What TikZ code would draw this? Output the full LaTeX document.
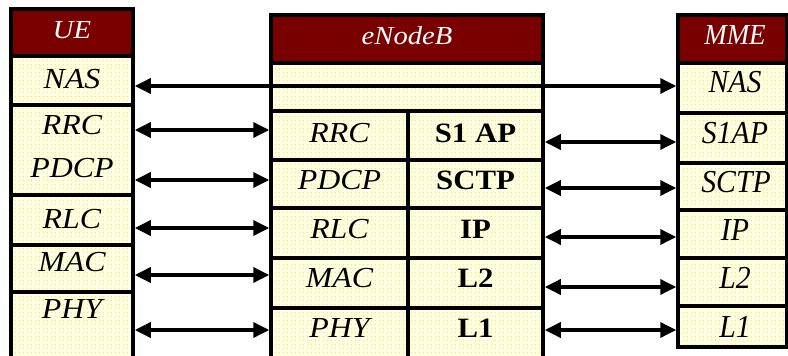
\documentclass[tikz,border=0pt]{standalone}
\usepackage{fontspec}
\setmainfont{Liberation Serif}[FakeStretch=1.1]
\newfontfamily\mmefont{Liberation Serif}[FakeStretch=0.93]
\usetikzlibrary{arrows.meta,patterns.meta,fit}
\definecolor{hdr}{RGB}{122,0,0}
\definecolor{cellbg}{RGB}{255,255,236}
\definecolor{dotc}{RGB}{255,244,0}
\begin{document}
\begin{tikzpicture}[x=1pt,y=-1pt,
  box/.style={draw=black, line width=3.5pt, inner sep=0pt},
  cell/.style={box, pattern={Dots[distance=4pt,radius=0.8pt]}, pattern color=dotc,
               preaction={fill=cellbg}},
  hdrbox/.style={box, fill=hdr},
  lbl/.style={font=\fontsize{29}{29}\selectfont\itshape, anchor=base, inner sep=0pt},
  blbl/.style={font=\fontsize{28}{28}\selectfont\bfseries, anchor=base, inner sep=0pt},
  mlbl/.style={font=\mmefont\fontsize{32}{32}\selectfont\itshape, anchor=base, inner sep=0pt},
  htxt/.style={text=white, font=\fontsize{26}{26}\selectfont\itshape, anchor=base, inner sep=0pt},
  mhtxt/.style={text=white, font=\mmefont\fontsize{29}{29}\selectfont\itshape, anchor=base, inner sep=0pt},
  link/.style={line width=3.5pt, {Triangle[length=16pt,width=15pt]}-{Triangle[length=16pt,width=15pt]}}]
\clip (0,0) rectangle (788,356);
\fill[white] (0,0) rectangle (788,356);

% ---------- UE protocol stack ----------
\node[hdrbox, fit={(11,9) (133,56)}] (ueh) {};
\node[cell, fit={(11,56) (133,105)}] (uenas) {};
\node[cell, fit={(11,105) (133,195)}] (uerrc) {};
\node[cell, fit={(11,195) (133,245)}] (uerlc) {};
\node[cell, fit={(11,245) (133,292)}] (uemac) {};
\node[cell, fit={(11,292) (133,372)}] (uephy) {};
\node[htxt] (tueh) at (72,38) {UE};
\node[lbl] (tuenas) at (72,88) {NAS};
\node[lbl] (tuerrc) at (72,134) {RRC};
\node[lbl] (tuepdcp) at (72,177) {PDCP};
\node[lbl] (tuerlc) at (72,228) {RLC};
\node[lbl] (tuemac) at (72,271) {MAC};
\node[lbl] (tuephy) at (72,318) {PHY};

% ---------- eNodeB protocol stack ----------
\node[hdrbox, fit={(271,15) (543,63)}] (enbh) {};
\node[cell, fit={(271,63) (543,111)}] (enbtop) {};
\node[cell, fit={(271,111) (408,160)}] (enbrrc) {};
\node[cell, fit={(271,160) (408,208)}] (enbpdcp) {};
\node[cell, fit={(271,208) (408,258)}] (enbrlc) {};
\node[cell, fit={(271,258) (408,308)}] (enbmac) {};
\node[cell, fit={(271,308) (408,372)}] (enbphy) {};
\node[cell, fit={(408,111) (543,160)}] (enbs1ap) {};
\node[cell, fit={(408,160) (543,208)}] (enbsctp) {};
\node[cell, fit={(408,208) (543,258)}] (enbip) {};
\node[cell, fit={(408,258) (543,308)}] (enbl2) {};
\node[cell, fit={(408,308) (543,372)}] (enbl1) {};
\node[htxt] (tenbh) at (407,45) {eNodeB};
\node[lbl] (tenbrrc) at (339.5,142) {RRC};
\node[lbl] (tenbpdcp) at (339.5,189) {PDCP};
\node[lbl] (tenbrlc) at (339.5,238) {RLC};
\node[lbl] (tenbmac) at (339.5,287) {MAC};
\node[lbl] (tenbphy) at (339.5,337) {PHY};
\node[blbl] (tenbs1ap) at (475.5,142) {S1 AP};
\node[blbl] (tenbsctp) at (475.5,189) {SCTP};
\node[blbl] (tenbip) at (475.5,238) {IP};
\node[blbl] (tenbl2) at (475.5,287) {L2};
\node[blbl] (tenbl1) at (475.5,337) {L1};

% ---------- MME protocol stack ----------
\node[hdrbox, fit={(678,15) (786.5,63)}] (mmeh) {};
\node[cell, fit={(678,63) (786.5,113)}] (mmenas) {};
\node[cell, fit={(678,113) (786.5,163)}] (mmes1ap) {};
\node[cell, fit={(678,163) (786.5,210)}] (mmesctp) {};
\node[cell, fit={(678,210) (786.5,258)}] (mmeip) {};
\node[cell, fit={(678,258) (786.5,306)}] (mmel2) {};
\node[cell, fit={(678,306) (786.5,347)}] (mmel1) {};
\node[mhtxt] (tmmeh) at (735,45) {MME};
\node[mlbl] (tmmenas) at (735,92) {NAS};
\node[mlbl] (tmmes1ap) at (735,143) {S1AP};
\node[mlbl] (tmmesctp) at (736,192) {SCTP};
\node[mlbl] (tmmeip) at (735,240) {IP};
\node[mlbl] (tmmel2) at (735,288) {L2};
\node[mlbl] (tmmel1) at (735,337) {L1};

% ---------- peer-to-peer links ----------
\draw[link] (uenas.east |- 0,86) -- (mmenas.west |- 0,86);
\draw[link] (uerrc.east |- 0,130) -- (enbrrc.west |- 0,130);
\draw[link] (uerrc.east |- 0,180) -- (enbpdcp.west |- 0,180);
\draw[link] (uerlc.east |- 0,228) -- (enbrlc.west |- 0,228);
\draw[link] (uemac.east |- 0,275) -- (enbmac.west |- 0,275);
\draw[link] (uephy.east |- 0,330) -- (enbphy.west |- 0,330);
\draw[link] (enbs1ap.east |- 0,142) -- (mmes1ap.west |- 0,142);
\draw[link] (enbsctp.east |- 0,188) -- (mmesctp.west |- 0,188);
\draw[link] (enbip.east |- 0,237) -- (mmeip.west |- 0,237);
\draw[link] (enbl2.east |- 0,287) -- (mmel2.west |- 0,287);
\draw[link] (enbl1.east |- 0,330) -- (mmel1.west |- 0,330);
\end{tikzpicture}
\end{document}
